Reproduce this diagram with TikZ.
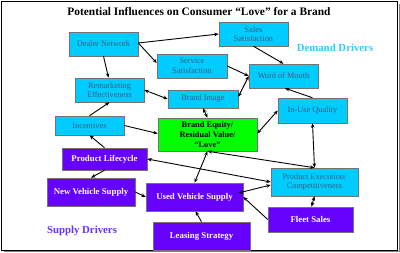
\documentclass[tikz,border=0pt]{standalone}
\usepackage{fontspec}
\setmainfont{Liberation Serif}
\usetikzlibrary{arrows.meta}
\definecolor{cyanbox}{RGB}{0,204,255}
\definecolor{purplebox}{RGB}{102,0,255}
\definecolor{greenbox}{RGB}{0,255,0}
\definecolor{cyantext}{RGB}{60,95,125}
\definecolor{demandc}{RGB}{51,204,255}
\definecolor{supplyc}{RGB}{102,51,255}
\tikzset{
  basebox/.style={draw=black!55, line width=0.5pt, inner sep=1pt, align=center, font=\fontsize{8.3}{9.6}\selectfont},
  demandbox/.style={basebox, fill=cyanbox, text=cyantext},
  supplybox/.style={basebox, fill=purplebox, text=white, font=\fontsize{8.8}{10}\selectfont\bfseries},
  corebox/.style={basebox, fill=greenbox, text=black, font=\fontsize{8.4}{10}\selectfont\bfseries},
  conn/.style={line width=0.9pt, -{Stealth[length=4.5pt,width=3.6pt]}},
  bconn/.style={line width=0.9pt, {Stealth[length=4.5pt,width=3.6pt]}-{Stealth[length=4.5pt,width=3.6pt]}},
  bigtitle/.style={font=\fontsize{11.4}{13}\selectfont\bfseries},
  driverlabel/.style={font=\fontsize{10.8}{13}\selectfont\bfseries}
}
\begin{document}
\begin{tikzpicture}[x=1pt,y=-1pt]
\useasboundingbox (0,0) rectangle (400,253);
\fill[white] (0,0) rectangle (400,253);
\draw[black!50, line width=1pt] (4,251.5) -- (399,251.5) -- (399,4);
\draw[black, line width=0.8pt] (1.5,1.5) rectangle (397.5,250);

\node[bigtitle] (title) at (199,12) {Potential Influences on Consumer “Love” for a Brand};

\node[demandbox, minimum width=69pt, minimum height=24pt] (dealer) at (103.5,44) {Dealer Network};
\node[demandbox, minimum width=69pt, minimum height=24pt] (sales) at (253.5,34) {Sales\\Satisfaction};
\node[demandbox, minimum width=70pt, minimum height=24pt] (service) at (192,66) {Service\\Satisfaction};
\node[demandbox, minimum width=69pt, minimum height=24pt] (wom) at (283.5,76) {Word of Mouth};
\node[demandbox, minimum width=69pt, minimum height=24pt] (remark) at (109.5,90) {Remarketing\\Effectiveness};
\node[demandbox, minimum width=70pt, minimum height=18pt] (image) at (203,99) {Brand Image};
\node[demandbox, minimum width=69pt, minimum height=25pt] (inuse) at (312.5,110.5) {In-Use Quality};
\node[demandbox, minimum width=69pt, minimum height=19pt] (incent) at (89.5,125.5) {Incentives};
\node[corebox, minimum width=99pt, minimum height=33pt] (equity) at (207.5,134.5) {Brand Equity/\\Residual Value/\\“Love”};
\node[supplybox, minimum width=85pt, minimum height=22pt] (lifecycle) at (104.5,159) {Product Lifecycle};
\node[supplybox, minimum width=88pt, minimum height=28pt] (newveh) at (91,192) {New Vehicle Supply};
\node[supplybox, minimum width=97pt, minimum height=28pt] (usedveh) at (194.5,197) {Used Vehicle Supply};
\node[demandbox, minimum width=87pt, minimum height=28pt] (prodexec) at (314.5,182) {Product Execution/\\Competitiveness};
\node[supplybox, minimum width=85pt, minimum height=25pt] (fleet) at (310.5,219.5) {Fleet Sales};
\node[supplybox, minimum width=97pt, minimum height=28pt] (leasing) at (201.5,236) {Leasing Strategy};

\node[driverlabel, text=demandc] (demand) at (335,48) {Demand Drivers};
\node[driverlabel, text=supplyc] (supply) at (82,231) {Supply Drivers};

\draw[conn] ([yshift=1pt]dealer.east) -- (sales.west);
\draw[conn] ([yshift=1pt]dealer.east) -- ([yshift=3pt]service.west);
\draw[conn] (dealer.south) -- ([xshift=-1pt]remark.north);
\draw[conn] (sales.south) -- (wom.north);
\draw[conn] (service.east) -- (wom.west);
\draw[bconn] ([yshift=2pt]image.east) -- (wom.west);
\draw[conn] (inuse.north) -- ([xshift=1.5pt]wom.south);
\draw[bconn] (remark.east) -- (image.west);
\draw[conn] (incent.north) -- (remark.south);
\draw[bconn] (image.south) -- (equity.north);
\draw[conn] (incent.east) -- ([yshift=1pt]equity.west);
\draw[bconn] ([yshift=1pt]equity.east) -- (inuse.west);
\draw[bconn] (inuse.south) -- (prodexec.north);
\draw[conn] (lifecycle.north) -- (incent.south);
\draw[conn] (lifecycle.south) -- (newveh.north);
\draw[bconn] (lifecycle.east) -- (prodexec.west);
\draw[bconn] (usedveh.north) -- (equity.south);
\draw[bconn] (equity.south) -- (prodexec.north);
\draw[conn] (newveh.east) -- ([yshift=0pt]usedveh.west);
\draw[bconn] ([yshift=-3pt]prodexec.west) -- ([xshift=-5pt,yshift=4pt]usedveh.east);
\draw[conn] (fleet.west) -- (usedveh.east);
\draw[bconn] ([xshift=1pt]fleet.north) -- (prodexec.south);
\draw[conn] (leasing.north) -- ([xshift=1pt]usedveh.south);
\end{tikzpicture}
\end{document}
